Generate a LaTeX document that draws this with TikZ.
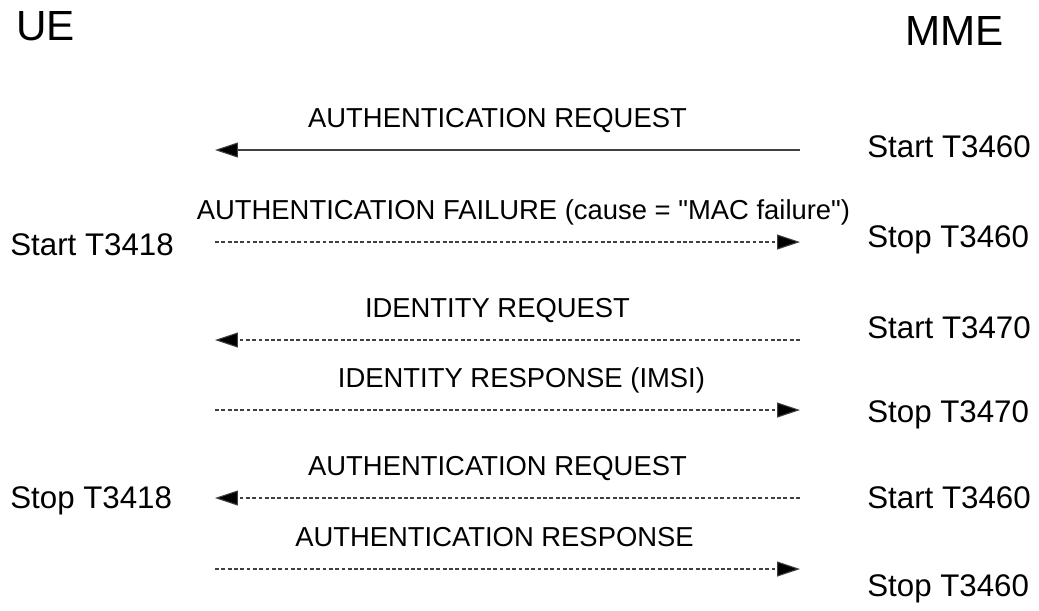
\documentclass[tikz,border=0pt]{standalone}
\usepackage{fontspec}
\setmainfont{Liberation Sans}
\usetikzlibrary{arrows.meta}
\tikzset{
msg/.style={draw=black!75, line width=0.6pt, -{Triangle[length=13pt,width=8.5pt,fill=black]}},
msgdash/.style={msg, dash pattern=on 2.2pt off 1.4pt},
msglabel/.style={midway, anchor=base, yshift=0.46cm, inner sep=0pt, font=\fontsize{15.6}{18}\selectfont},
timer/.style={anchor=base west, inner sep=0pt, font=\fontsize{17.8}{20}\selectfont},
entity/.style={anchor=base west, inner sep=0pt, font=\fontsize{24}{28}\selectfont}}

\begin{document}
\begin{tikzpicture}[x=0.02cm, y=-0.02cm]
    \useasboundingbox (0,0) rectangle (1039,610);

                \node[entity] (ue) at (16,40) {UE};
                \node[entity] (mme) at (905,45) {MME};

                \coordinate (l1) at (215,150); \coordinate (r1) at (800,150);
                \coordinate (l2) at (215,242); \coordinate (r2) at (800,242);
                \coordinate (l3) at (215,340); \coordinate (r3) at (800,340);
                \coordinate (l4) at (215,410); \coordinate (r4) at (800,410);
                \coordinate (l5) at (215,498); \coordinate (r5) at (800,498);
                \coordinate (l6) at (215,569); \coordinate (r6) at (800,569);

                \draw[msg] (r1) -- (l1) node[msglabel, xshift=-0.2cm] {AUTHENTICATION REQUEST};
                \draw[msgdash] (l2) -- (r2) node[msglabel, xshift=0.32cm] {AUTHENTICATION FAILURE (cause = \textquotedbl MAC failure\textquotedbl)};
                \draw[msgdash] (r3) -- (l3) node[msglabel, xshift=-0.2cm] {IDENTITY REQUEST};
                \draw[msgdash] (l4) -- (r4) node[msglabel, xshift=0.28cm] {IDENTITY RESPONSE (IMSI)};
                \draw[msgdash] (r5) -- (l5) node[msglabel, xshift=-0.2cm] {AUTHENTICATION REQUEST};
                \draw[msgdash] (l6) -- (r6) node[msglabel, xshift=-0.26cm] {AUTHENTICATION RESPONSE};

                \node[timer] (t1) at (867,157) {Start T3460};
                \node[timer] (t2) at (867,247) {Stop T3460};
                \node[timer] (t3) at (867,338) {Start T3470};
                \node[timer] (t4) at (867,422) {Stop T3470};
                \node[timer] (t5) at (867,508) {Start T3460};
                \node[timer] (t6) at (867,596) {Stop T3460};

                \node[timer] (s1) at (10,255) {Start T3418};
                \node[timer] (s2) at (10,508) {Stop T3418};

\end{tikzpicture}
\end{document}
